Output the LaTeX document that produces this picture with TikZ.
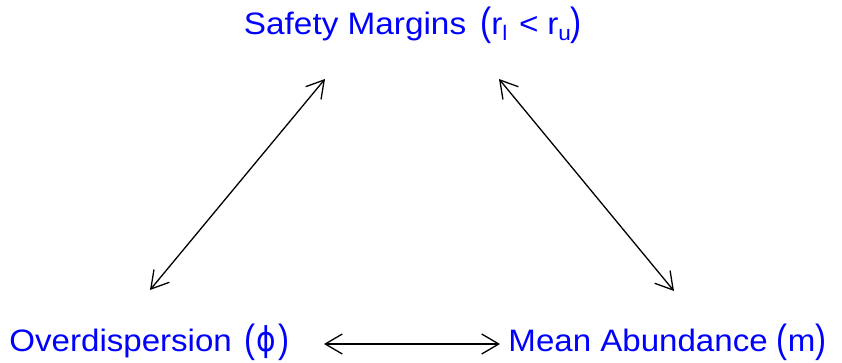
\documentclass[tikz,border=0pt]{standalone}
\usepackage{fontspec}
\setmainfont{Liberation Sans}
\newfontfamily\phifont{DejaVu Sans}
\usetikzlibrary{arrows.meta}
\definecolor{lblblue}{RGB}{0,0,255}
\newcommand\plparL{\raisebox{-0.6pt}{\scalebox{1}[1.27]{(}}}
\newcommand\plparR{\raisebox{-0.6pt}{\scalebox{1}[1.27]{)}}}
\newcommand\plsub[1]{\raisebox{-6pt}{\fontsize{21}{21}\selectfont #1}}
\tikzset{
  lbl/.style={text=lblblue, inner sep=0pt, anchor=base, font=\fontsize{31}{32}\selectfont},
  dbl/.style={draw=black, line width=1.3pt, line join=round, line cap=round,
    {Straight Barb[length=17pt,width=20pt,line width=1.3pt]}-{Straight Barb[length=17pt,width=20pt,line width=1.3pt]}}
}
\begin{document}
\begin{tikzpicture}[x=1pt,y=-1pt]
\useasboundingbox (0,0) rectangle (842,363);
\node[lbl] (top) at (413,34.5) {\scalebox{1.075}[1]{Safety Margins\hspace{13pt}\plparL r\plsub{l}\hspace{11pt}<\hspace{8pt}r\plsub{u}\plparR}};
\node[lbl] (od) at (149.5,351.5) {\scalebox{1.067}[1]{Overdispersion\hspace{12pt}\plparL\hspace{1pt}{\phifont\scalebox{0.9}[1.1]{ϕ}}\hspace{2pt}\plparR}};
\node[lbl] (ma) at (667.5,351.5) {\scalebox{1.067}[1]{Mean Abundance \plparL m\plparR}};
\coordinate (l1) at (150,290);
\coordinate (l2) at (325,79);
\coordinate (r1) at (499,79);
\coordinate (r2) at (674,291);
\coordinate (b1) at (324,344);
\coordinate (b2) at (500,344);
\draw[dbl] (l1) -- (l2);
\draw[dbl] (r1) -- (r2);
\draw[dbl] (b1) -- (b2);
\end{tikzpicture}
\end{document}
